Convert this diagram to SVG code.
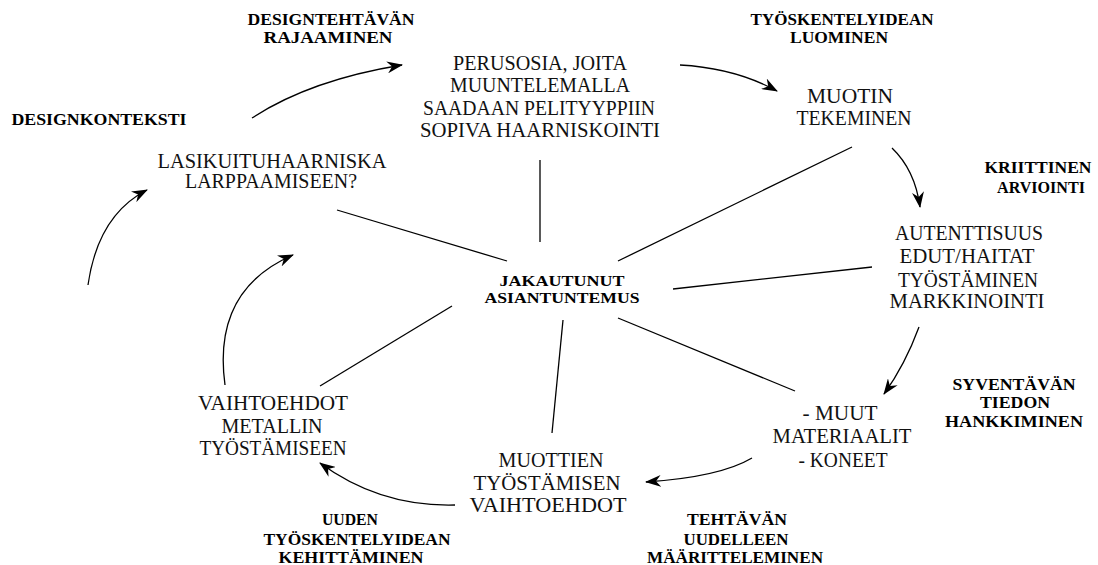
<svg xmlns="http://www.w3.org/2000/svg" width="1098" height="565" viewBox="0 0 1098 565">
<style>
.n{font-family:"Liberation Serif","Times New Roman",serif;font-size:20px;fill:#111;text-anchor:middle}
.b{font-family:"Liberation Serif","Times New Roman",serif;font-size:17px;font-weight:bold;fill:#000;text-anchor:middle}
.c{font-family:"Liberation Serif","Times New Roman",serif;font-size:15px;font-weight:bold;fill:#000;text-anchor:middle}
.s{stroke:#000;stroke-width:1.3;fill:none}
.a{stroke:#000;stroke-width:1.3;fill:none;marker-end:url(#ah)}
</style>
<defs>
<marker id="ah" viewBox="0 0 16 12" refX="15" refY="6" markerWidth="16" markerHeight="12" markerUnits="userSpaceOnUse" orient="auto">
<path d="M0,0 L16,6 L0,12 L5,6 z" fill="#000"/>
</marker>
</defs>
<rect width="1098" height="565" fill="#fff"/>
<g id="connectors">
<line class="s" x1="540" y1="160" x2="540" y2="242"/>
<line class="s" x1="337" y1="210" x2="507" y2="261"/>
<line class="s" x1="852" y1="147" x2="618" y2="261"/>
<line class="s" x1="872" y1="267" x2="673" y2="289"/>
<line class="s" x1="618" y1="318" x2="795" y2="391"/>
<line class="s" x1="563" y1="320" x2="552" y2="433"/>
<line class="s" x1="452" y1="306" x2="320" y2="386"/>
<path class="a" d="M88,285 Q98,215 147,190"/>
<path class="a" d="M252,118 Q310,80 402,65"/>
<path class="a" d="M680,65 Q735,68 777,91"/>
<path class="a" d="M892,148 Q915,170 920,207"/>
<path class="a" d="M919,327 Q905,365 884,394"/>
<path class="a" d="M752,458 Q720,477 646,482"/>
<path class="a" d="M455,505 Q380,507 320,463"/>
<path class="a" d="M225,385 Q212,290 293,255"/>
</g>
<g id="node-perusosia">
<text class="n" x="540" y="70" textLength="174" lengthAdjust="spacingAndGlyphs">PERUSOSIA, JOITA</text>
<text class="n" x="540" y="92" textLength="180" lengthAdjust="spacingAndGlyphs">MUUNTELEMALLA</text>
<text class="n" x="539" y="115" textLength="232" lengthAdjust="spacingAndGlyphs">SAADAAN PELITYYPPIIN</text>
<text class="n" x="540" y="137" textLength="240" lengthAdjust="spacingAndGlyphs">SOPIVA HAARNISKOINTI</text>
</g>
<g id="node-muotin">
<text class="n" x="850" y="103" textLength="86" lengthAdjust="spacingAndGlyphs">MUOTIN</text>
<text class="n" x="854" y="125" textLength="115" lengthAdjust="spacingAndGlyphs">TEKEMINEN</text>
</g>
<g id="node-lasikuitu">
<text class="n" x="272" y="168" textLength="229" lengthAdjust="spacingAndGlyphs">LASIKUITUHAARNISKA</text>
<text class="n" x="271" y="188" textLength="172" lengthAdjust="spacingAndGlyphs">LARPPAAMISEEN?</text>
</g>
<g id="node-autenttisuus">
<text class="n" x="969" y="240" textLength="148" lengthAdjust="spacingAndGlyphs">AUTENTTISUUS</text>
<text class="n" x="967" y="263" textLength="135" lengthAdjust="spacingAndGlyphs">EDUT/HAITAT</text>
<text class="n" x="968" y="287" textLength="140" lengthAdjust="spacingAndGlyphs">TYÖSTÄMINEN</text>
<text class="n" x="967" y="308" textLength="155" lengthAdjust="spacingAndGlyphs">MARKKINOINTI</text>
</g>
<g id="node-muut">
<text class="n" x="840" y="420" textLength="75" lengthAdjust="spacingAndGlyphs">- MUUT</text>
<text class="n" x="842" y="443" textLength="139" lengthAdjust="spacingAndGlyphs">MATERIAALIT</text>
<text class="n" x="843" y="467" textLength="89" lengthAdjust="spacingAndGlyphs">- KONEET</text>
</g>
<g id="node-muottien">
<text class="n" x="551" y="467" textLength="105" lengthAdjust="spacingAndGlyphs">MUOTTIEN</text>
<text class="n" x="547" y="490" textLength="147" lengthAdjust="spacingAndGlyphs">TYÖSTÄMISEN</text>
<text class="n" x="548" y="512" textLength="157" lengthAdjust="spacingAndGlyphs">VAIHTOEHDOT</text>
</g>
<g id="node-metalli">
<text class="n" x="273" y="410" textLength="150" lengthAdjust="spacingAndGlyphs">VAIHTOEHDOT</text>
<text class="n" x="272" y="433" textLength="101" lengthAdjust="spacingAndGlyphs">METALLIN</text>
<text class="n" x="273" y="455" textLength="147" lengthAdjust="spacingAndGlyphs">TYÖSTÄMISEEN</text>
</g>
<g id="node-center">
<text class="c" x="562" y="286" textLength="125" lengthAdjust="spacingAndGlyphs">JAKAUTUNUT</text>
<text class="c" x="562" y="303" textLength="155" lengthAdjust="spacingAndGlyphs">ASIANTUNTEMUS</text>
</g>
<g id="label-rajaaminen">
<text class="b" x="331" y="25" textLength="167" lengthAdjust="spacingAndGlyphs">DESIGNTEHTÄVÄN</text>
<text class="b" x="328" y="43" textLength="129" lengthAdjust="spacingAndGlyphs">RAJAAMINEN</text>
</g>
<g id="label-luominen">
<text class="b" x="842" y="25" textLength="183" lengthAdjust="spacingAndGlyphs">TYÖSKENTELYIDEAN</text>
<text class="b" x="839" y="43" textLength="98" lengthAdjust="spacingAndGlyphs">LUOMINEN</text>
</g>
<g id="label-konteksti">
<text class="b" x="99" y="125" textLength="175" lengthAdjust="spacingAndGlyphs">DESIGNKONTEKSTI</text>
</g>
<g id="label-arviointi">
<text class="b" x="1038" y="173" textLength="107" lengthAdjust="spacingAndGlyphs">KRIITTINEN</text>
<text class="b" x="1041" y="193" textLength="88" lengthAdjust="spacingAndGlyphs">ARVIOINTI</text>
</g>
<g id="label-syventava">
<text class="b" x="1014" y="390" textLength="123" lengthAdjust="spacingAndGlyphs">SYVENTÄVÄN</text>
<text class="b" x="1015" y="408" textLength="70" lengthAdjust="spacingAndGlyphs">TIEDON</text>
<text class="b" x="1014" y="427" textLength="138" lengthAdjust="spacingAndGlyphs">HANKKIMINEN</text>
</g>
<g id="label-maarittely">
<text class="b" x="737" y="525" textLength="100" lengthAdjust="spacingAndGlyphs">TEHTÄVÄN</text>
<text class="b" x="736" y="545" textLength="105" lengthAdjust="spacingAndGlyphs">UUDELLEEN</text>
<text class="b" x="735" y="563" textLength="176" lengthAdjust="spacingAndGlyphs">MÄÄRITTELEMINEN</text>
</g>
<g id="label-kehittaminen">
<text class="b" x="350" y="525" textLength="56" lengthAdjust="spacingAndGlyphs">UUDEN</text>
<text class="b" x="357" y="545" textLength="187" lengthAdjust="spacingAndGlyphs">TYÖSKENTELYIDEAN</text>
<text class="b" x="351" y="563" textLength="145" lengthAdjust="spacingAndGlyphs">KEHITTÄMINEN</text>
</g>
</svg>
